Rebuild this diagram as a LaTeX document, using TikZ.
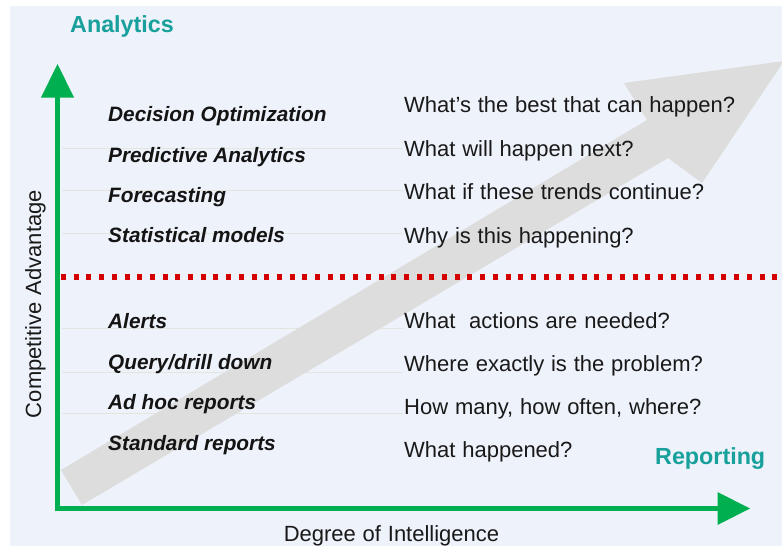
\documentclass[tikz,border=0pt]{standalone}
\usepackage{fontspec}
\setmainfont{Liberation Sans}
\definecolor{bgblue}{HTML}{EEF2FA}
\definecolor{gridc}{HTML}{E5E5E0}
\definecolor{arrowgray}{HTML}{DDDDDD}
\definecolor{axisgreen}{HTML}{00B050}
\definecolor{dotred}{HTML}{D40000}
\definecolor{tealc}{HTML}{17A09C}
\newcommand\widesp{\spaceskip=0.31em plus 0.1em\relax}
\tikzset{
  lefttxt/.style={anchor=base west, inner sep=0pt, text=black!92, font=\fontsize{20.8}{24}\selectfont\bfseries\itshape},
  righttxt/.style={anchor=base west, inner sep=0pt, text=black!90, font=\fontsize{22}{26}\selectfont, execute at begin node=\widesp},
  axislabel/.style={anchor=base, inner sep=0pt, text=black!90, font=\fontsize{22}{26}\selectfont, execute at begin node=\widesp},
  heading/.style={anchor=base west, inner sep=0pt, text=tealc, font=\fontsize{23.3}{28}\selectfont\bfseries},
  gridline/.style={draw=gridc, line width=1pt},
  axisline/.style={draw=axisgreen, line width=5.5pt},
  axishead/.style={fill=axisgreen},
  divider/.style={draw=dotred, line width=5.5pt, dash pattern=on 5pt off 7.7pt}
}
\begin{document}
\begin{tikzpicture}[x=1pt,y=-1pt]
\useasboundingbox (0,0) rectangle (782,546);
\fill[white] (0,0) rectangle (782,546);
\fill[bgblue] (10,6) rectangle (782,546);
% faint table lines
\foreach \yy in {148,190,233,328,372,413}
  \draw[gridline] (62,\yy) -- (403,\yy);
% big gray arrow
\fill[arrowgray] (61,470) -- (647,120) -- (624,83) -- (784,61) -- (702,183) -- (668,158) -- (82,505) -- cycle;
% red dotted divider
\coordinate (divL) at (61,277);
\coordinate (divR) at (782,277);
\draw[divider] (divL) -- (divR);
% axes
\coordinate (origin) at (57.5,508.5);
\coordinate (ytip) at (57.5,64);
\coordinate (ybase) at (57.5,97);
\coordinate (xtip) at (750,508.5);
\coordinate (xbase) at (718,508.5);
\draw[axisline] (57.5,511.25) -- (ybase);
\draw[axisline] (54.75,508.5) -- (xbase);
\fill[axishead] (ytip) -- (41,97.5) -- (74,97.5) -- cycle;
\fill[axishead] (xtip) -- (717.5,492) -- (717.5,525) -- cycle;
% headings
\node[heading] (analytics) at (70,32) {Analytics};
\node[heading] (reporting) at (655,464) {Reporting};
% axis labels
\node[axislabel, rotate=90] (yl) at (41,304) {Competitive Advantage};
\node[axislabel] (xl) at (391.5,541) {Degree of Intelligence};
% left column
\node[lefttxt] (l1) at (108,121) {Decision Optimization};
\node[lefttxt] (l2) at (108,162) {Predictive Analytics};
\node[lefttxt] (l3) at (108,202) {Forecasting};
\node[lefttxt] (l4) at (108,242) {Statistical models};
\node[lefttxt] (l5) at (108,328) {Alerts};
\node[lefttxt] (l6) at (108,369) {Query/drill down};
\node[lefttxt] (l7) at (108,409) {Ad hoc reports};
\node[lefttxt] (l8) at (108,450) {Standard reports};
% right column
\node[righttxt] (r1) at (404,112) {What’s the best that can happen?};
\node[righttxt] (r2) at (404,156) {What will happen\ next?};
\node[righttxt] (r3) at (404,199) {What if these trends continue?};
\node[righttxt] (r4) at (404,243) {Why is this happening?};
\node[righttxt] (r5) at (404,328.5) {What\ \ actions are needed?};
\node[righttxt] (r6) at (404,371.5) {Where exactly is the problem?};
\node[righttxt] (r7) at (404,414.5) {How many,\ how often,\ where?};
\node[righttxt] (r8) at (404,457.5) {What happened?};
\end{tikzpicture}
\end{document}
